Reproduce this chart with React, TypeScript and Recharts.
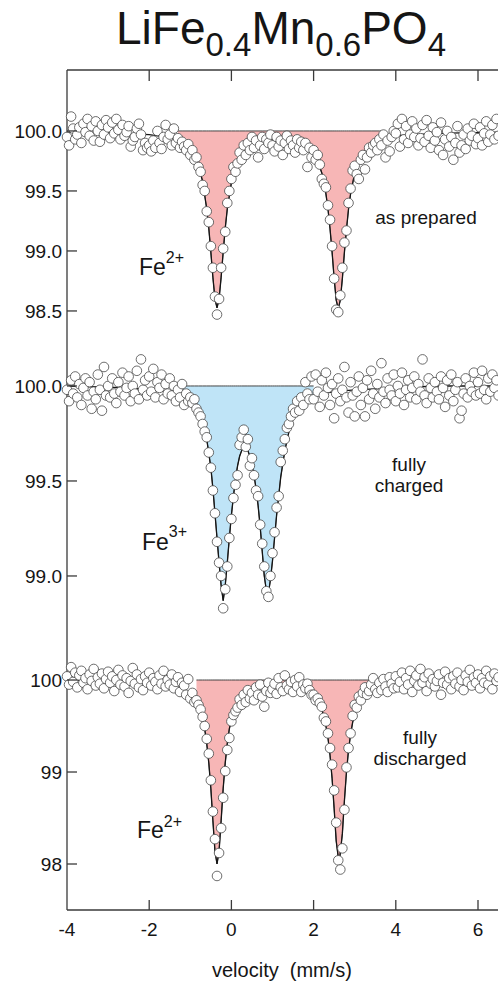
import React from 'react'
import { ComposedChart, Area, Line, Scatter, XAxis, YAxis } from 'recharts'

// channel grid: -4.00 ... 6.50 mm/s, 0.05 mm/s per channel
const V_START = -4
const V_STEP = 0.05

const asPrepared = [
  99.95, 99.88, 100.12, 100.02, 99.93, 99.97, 100.03, 99.9, 100.06, 99.99, 100.1, 99.96, 100.04, 99.92, 100.08, 100.0, 99.91, 100.05, 99.97, 100.09,
  100.03, 99.94, 100.07, 99.98, 100.1, 100.01, 99.93, 100.05, 99.96, 99.99, 100.04, 99.87, 99.92, 99.95, 100.02, 100.06, 99.97, 99.84, 99.9, 99.86,
  99.88, 99.83, 99.92, 99.86, 100.0, 99.9, 99.85, 99.95, 100.05, 99.93, 99.97, 99.88, 100.02, 99.9, 99.94, 99.86, 99.91, 99.87, 99.84, 99.89,
  99.8, 99.84, 99.76, 99.78, 99.7, 99.66, 99.55, 99.5, 99.33, 99.24, 99.04, 98.86, 98.62, 98.47, 98.6, 98.86, 99.02, 99.16, 99.4, 99.5,
  99.6, 99.7, 99.66, 99.73, 99.82, 99.76, 99.88, 99.8, 99.9, 99.84, 99.95, 99.86, 99.92, 99.78, 99.88, 99.95, 99.85, 99.93, 99.9, 99.97,
  99.88, 99.83, 99.95, 99.87, 99.92, 99.8, 99.9, 99.96, 99.85, 99.92, 99.88, 99.82, 99.93, 99.86, 99.91, 99.84, 99.9, 99.7, 99.86, 99.78,
  99.84, 99.76, 99.8, 99.72, 99.6, 99.56, 99.53, 99.38, 99.26, 99.04, 98.77, 98.51, 98.49, 98.63, 98.86, 99.07, 99.17, 99.4, 99.52, 99.67,
  99.71, 99.64, 99.6, 99.76, 99.8, 99.68, 99.78, 99.86, 99.82, 99.88, 99.9, 99.84, 99.93, 99.88, 99.97, 99.78, 99.92, 99.83, 99.95, 100.0,
  99.98, 100.06, 99.87, 100.1, 99.93, 100.04, 99.9, 99.97, 100.08, 99.95, 100.02, 99.88, 99.94, 100.05, 99.91, 100.09, 99.96, 99.86, 100.03, 99.92,
  99.99, 99.84, 100.07, 99.8, 99.93, 100.0, 99.87, 99.95, 99.76, 99.9, 100.04, 99.82, 99.88, 99.97, 99.85, 100.02, 99.92, 99.96, 100.06, 99.89,
  99.94, 100.03, 99.88, 99.98, 100.08, 99.91, 99.97, 100.05, 99.93, 100.1, 99.96,
]

const fullyCharged = [
  99.98, 99.92, 100.03, 99.96, 100.05, 99.94, 100.01, 99.9, 99.99, 100.04, 99.95, 100.02, 99.88, 99.97, 99.93, 100.06, 99.98, 99.87, 100.1, 99.95,
  100.0, 99.94, 100.04, 99.96, 99.91, 100.02, 99.97, 100.07, 99.95, 99.99, 100.05, 99.92, 100.0, 99.96, 100.08, 99.93, 100.14, 99.98, 100.03, 99.95,
  100.05, 99.97, 100.09, 99.94, 100.02, 99.99, 100.06, 99.93, 100.01, 99.96, 100.04, 99.95, 100.0, 99.92, 99.98, 99.94, 100.01, 99.9, 99.96, 99.92,
  99.94, 99.91, 99.93, 99.88, 99.86, 99.84, 99.8, 99.76, 99.73, 99.65, 99.57, 99.45, 99.33, 99.18, 99.07, 99.0, 98.83, 98.93, 99.05, 99.2,
  99.3, 99.41, 99.48, 99.53, 99.69, 99.73, 99.77, 99.68, 99.72, 99.58, 99.62, 99.53, 99.45, 99.42, 99.27, 99.17, 99.05, 98.92, 98.89, 99.0,
  99.12, 99.23, 99.36, 99.42, 99.6, 99.66, 99.72, 99.78, 99.8, 99.84, 99.88, 99.86, 99.92, 99.87, 99.94, 99.9, 100.02, 99.96, 99.93, 100.05,
  99.93, 100.06, 99.97, 99.89, 100.03, 99.95, 100.07, 99.99, 99.9, 100.01, 99.83, 99.96, 100.04, 99.92, 99.98, 100.1, 99.94, 99.86, 100.02, 99.95,
  99.84, 99.97, 100.05, 99.9, 99.99, 99.84, 100.03, 99.93, 100.08, 99.96, 99.88, 100.01, 99.94, 100.12, 99.97, 99.91, 100.04, 99.98, 99.95, 100.06,
  99.92, 100.0, 99.96, 100.07, 99.9, 99.98, 100.03, 99.94, 99.99, 100.05, 99.93, 100.01, 99.97, 100.14, 99.95, 99.91, 100.04, 99.99, 99.94, 100.02,
  99.97, 99.93, 100.05, 99.99, 99.89, 100.03, 99.95, 100.06, 99.92, 99.98, 100.02, 99.83, 99.87, 99.96, 100.04, 99.94, 100.0, 99.97, 100.07, 99.95,
  100.02, 99.96, 100.08, 99.98, 99.93, 100.04, 99.97, 100.06, 99.99, 100.03, 99.95,
]

const fullyDischarged = [
  100.04, 99.95, 100.14, 99.98, 100.08, 99.92, 100.05, 100.1, 99.97, 100.02, 99.9, 100.06, 99.99, 100.12, 99.94, 100.03, 99.96, 100.07, 99.91, 100.01,
  100.09, 99.97, 100.04, 99.88, 100.0, 100.11, 99.95, 100.05, 99.93, 100.02, 99.86, 99.99, 100.13, 99.96, 100.06, 99.92, 100.01, 99.89, 100.04, 99.97,
  100.08, 99.94, 100.02, 99.98, 99.9, 100.05, 99.96, 100.1, 99.93, 100.0, 99.95, 100.06, 99.91, 99.98, 100.03, 99.87, 99.97, 99.94, 99.84, 100.01,
  99.8, 99.86, 99.76, 99.78, 99.73, 99.68, 99.6, 99.5, 99.36, 99.2, 98.91, 98.57, 98.27, 97.87, 98.12, 98.39, 98.72, 99.01, 99.24, 99.37,
  99.55, 99.62, 99.66, 99.7, 99.79, 99.73, 99.84, 99.76, 99.89, 99.8, 99.86, 99.78, 99.92, 99.84, 99.95, 99.82, 99.71, 99.88, 99.97, 99.86,
  99.9, 99.96, 99.85, 100.02, 99.92, 99.88, 100.05, 99.94, 99.9, 99.98, 99.87, 100.0, 99.93, 100.03, 99.87, 99.95, 99.91, 99.96, 99.89, 99.84,
  99.84, 99.78, 99.8, 99.75, 99.71, 99.59, 99.55, 99.42, 99.26, 99.08, 98.8, 98.45, 98.04, 97.94, 98.17, 98.59, 99.05, 99.26, 99.42, 99.61,
  99.73, 99.7, 99.82, 99.78, 99.86, 99.92, 99.84, 99.88, 99.95, 100.02, 99.9, 99.86, 99.97, 99.89, 100.01, 99.93, 99.87, 100.03, 99.96, 99.91,
  100.04, 99.92, 99.98, 100.08, 99.9, 100.02, 99.95, 100.1, 99.87, 99.99, 100.05, 99.94, 100.12, 99.97, 100.03, 99.88, 100.07, 99.96, 100.01, 99.93,
  99.99, 100.06, 99.84, 99.97, 100.09, 99.95, 100.02, 99.9, 100.04, 99.96, 100.08, 99.93, 100.0, 99.89, 100.05, 99.98, 100.11, 99.94, 100.03, 99.97,
  100.06, 99.91, 100.02, 99.97, 100.1, 99.95, 100.04, 99.9, 100.07, 99.99, 100.03,
]

// fitted envelopes
const fitPreparedV = [-4, -3, -2, -1.5, -1.3, -1.2, -1.0, -0.9, -0.8, -0.7, -0.6, -0.55, -0.5, -0.45, -0.4, -0.35, -0.3, -0.25, -0.2, -0.15, -0.1, 0, 0.1, 0.2, 0.35, 0.5, 0.75, 1.0, 1.25, 1.5, 1.75, 1.9, 2.0, 2.1, 2.2, 2.25, 2.3, 2.35, 2.4, 2.45, 2.5, 2.55, 2.6, 2.65, 2.7, 2.75, 2.8, 2.85, 2.9, 3.0, 3.1, 3.2, 3.4, 3.6, 3.75, 4.0, 5.0, 6.5]
const fitPrepared = [99.99, 99.985, 99.97, 99.945, 99.92, 99.9, 99.845, 99.79, 99.71, 99.58, 99.35, 99.19, 98.99, 98.78, 98.6, 98.525, 98.6, 98.78, 98.99, 99.19, 99.35, 99.57, 99.7, 99.78, 99.85, 99.89, 99.92, 99.935, 99.936, 99.923, 99.89, 99.854, 99.81, 99.75, 99.65, 99.57, 99.475, 99.35, 99.185, 98.99, 98.77, 98.59, 98.52, 98.59, 98.77, 98.99, 99.18, 99.35, 99.475, 99.65, 99.755, 99.82, 99.89, 99.925, 99.94, 99.96, 99.98, 99.99]

const fitChargedV = [-4, -2.5, -2.0, -1.5, -1.2, -1.0, -0.9, -0.8, -0.7, -0.6, -0.5, -0.45, -0.4, -0.35, -0.3, -0.25, -0.2, -0.15, -0.1, -0.05, 0, 0.05, 0.1, 0.15, 0.2, 0.25, 0.33, 0.4, 0.45, 0.5, 0.55, 0.6, 0.65, 0.7, 0.75, 0.8, 0.88, 0.95, 1.0, 1.05, 1.1, 1.15, 1.2, 1.3, 1.4, 1.5, 1.6, 1.8, 2.0, 2.5, 3, 4, 5, 6.5]
const fitCharged = [100.0, 99.99, 99.98, 99.97, 99.95, 99.93, 99.91, 99.87, 99.81, 99.72, 99.57, 99.46, 99.33, 99.2, 99.07, 98.95, 98.87, 98.95, 99.07, 99.2, 99.32, 99.42, 99.51, 99.58, 99.63, 99.66, 99.67, 99.66, 99.63, 99.59, 99.53, 99.46, 99.37, 99.26, 99.13, 99.0, 98.88, 98.98, 99.08, 99.2, 99.32, 99.42, 99.52, 99.66, 99.76, 99.83, 99.87, 99.92, 99.95, 99.97, 99.98, 99.99, 100.0, 100.0]

const fitDischargedV = [-4, -2.5, -2, -1.5, -1.2, -1.0, -0.9, -0.85, -0.8, -0.7, -0.65, -0.6, -0.55, -0.5, -0.45, -0.4, -0.35, -0.3, -0.25, -0.2, -0.15, -0.1, -0.05, 0, 0.1, 0.2, 0.35, 0.5, 0.7, 1.0, 1.3, 1.5, 1.7, 1.8, 1.9, 2.0, 2.1, 2.2, 2.25, 2.3, 2.35, 2.4, 2.45, 2.5, 2.55, 2.62, 2.7, 2.75, 2.8, 2.85, 2.9, 2.95, 3.0, 3.1, 3.2, 3.3, 3.5, 3.7, 4, 5, 6.5]
const fitDischarged = [100.0, 99.99, 99.975, 99.95, 99.91, 99.855, 99.8, 99.766, 99.72, 99.58, 99.47, 99.31, 99.1, 98.82, 98.47, 98.14, 98.0, 98.14, 98.47, 98.82, 99.1, 99.31, 99.47, 99.57, 99.71, 99.795, 99.865, 99.9, 99.925, 99.94, 99.94, 99.93, 99.9, 99.89, 99.86, 99.83, 99.77, 99.68, 99.6, 99.5, 99.37, 99.18, 98.93, 98.6, 98.25, 98.0, 98.33, 98.69, 99.0, 99.24, 99.41, 99.54, 99.63, 99.75, 99.82, 99.87, 99.92, 99.945, 99.96, 99.98, 100.0]

const velocityTicks = [-4, -2, 0, 2, 4, 6]
const preparedTicks = [98.5, 99.0, 99.5, 100.0]
const chargedTicks = [99.0, 99.5, 100.0]
const dischargedTicks = [98, 99, 100]

const FONT = '"Liberation Sans", Arial, Helvetica, sans-serif'
const AXIS = '#3a3a3a'
const INK = '#151515'
const PINK = '#f7b6b6'
const BLUE = '#bfe4f7'
const PLOT_L = 67
const PLOT_R = 498.55
const CHART_W = 520

const Dot = (p: any) => (
  <circle cx={p.cx} cy={p.cy} r={4.8} fill="#fff" stroke="#484848" strokeWidth={0.8} />
)

type PanelProps = {
  top: number
  axisTop: number
  plotH: number
  axisBottom: number
  domain: [number, number]
  ticks: number[]
  fmt: (v: number) => string
  values: number[]
  fitV: number[]
  fitY: number[]
  fillRange: [number, number]
  fillColor: string
}

function Panel({ top, axisTop, plotH, axisBottom, domain, ticks, fmt, values, fitV, fitY, fillRange, fillColor }: PanelProps) {
  const points = values.map((y, i) => ({ v: +(V_START + i * V_STEP).toFixed(2), y }))
  const fit = fitV.map((v, i) => ({ v, y: fitY[i] }))
  const band = fit
    .filter((p) => p.v >= fillRange[0] && p.v <= fillRange[1])
    .map((p) => ({ v: p.v, band: [p.y, 100] }))

  const plotTop = axisTop
  const plotBottom = axisTop + plotH
  const height = axisTop + plotH + axisBottom
  const showX = axisTop > 0 || axisBottom > 0
  const xOrient = axisTop > 0 ? 'top' : 'bottom'

  const xTick = (p: any) => {
    if (xOrient === 'top') {
      if (p.payload.value === -4) return <g />
      return <line x1={p.x} x2={p.x} y1={plotTop} y2={plotTop + 11} stroke={AXIS} strokeWidth={1.3} />
    }
    return (
      <g>
        {p.payload.value !== -4 && (
          <line x1={p.x} x2={p.x} y1={plotBottom} y2={plotBottom - 10} stroke={AXIS} strokeWidth={1.3} />
        )}
        <text x={p.x} y={plotBottom + 19} dy="0.36em" textAnchor="middle" fontSize={19} fontFamily={FONT} fill={INK}>
          {String(p.payload.value)}
        </text>
      </g>
    )
  }

  const leftTick = (p: any) => (
    <g>
      <line x1={PLOT_L} x2={PLOT_L + 10} y1={p.y} y2={p.y} stroke={AXIS} strokeWidth={1.3} />
      <text x={PLOT_L - 5} y={p.y} dy="0.36em" textAnchor="end" fontSize={19} fontFamily={FONT} fill={INK}>
        {fmt(p.payload.value)}
      </text>
    </g>
  )

  const rightTick = (p: any) => (
    <line x1={PLOT_R - 10} x2={PLOT_R} y1={p.y} y2={p.y} stroke={AXIS} strokeWidth={1.3} />
  )

  return (
    <div style={{ position: 'absolute', left: 0, top }}>
      <ComposedChart width={CHART_W} height={height} margin={{ top: 0, right: 0, bottom: 0, left: 0 }}>
        <XAxis
          type="number"
          dataKey="v"
          domain={[-4, 6.5]}
          ticks={velocityTicks}
          interval={0}
          orientation={xOrient}
          hide={!showX}
          height={xOrient === 'top' ? axisTop : axisBottom}
          tickSize={0}
          tickLine={false}
          axisLine={{ stroke: AXIS, strokeWidth: 1.3 }}
          tick={xTick}
        />
        <YAxis
          yAxisId="l"
          type="number"
          domain={domain}
          ticks={ticks}
          interval={0}
          width={PLOT_L}
          tickSize={0}
          tickLine={false}
          axisLine={{ stroke: AXIS, strokeWidth: 1.3 }}
          tick={leftTick}
        />
        <YAxis
          yAxisId="r"
          orientation="right"
          type="number"
          domain={domain}
          ticks={ticks}
          interval={0}
          width={CHART_W - PLOT_R}
          tickSize={0}
          tickLine={false}
          axisLine={false}
          tick={rightTick}
        />
        <Area
          yAxisId="l"
          data={band}
          dataKey="band"
          type="linear"
          fill={fillColor}
          fillOpacity={1}
          stroke="#444"
          strokeWidth={1}
          isAnimationActive={false}
        />
        <Line
          yAxisId="l"
          data={fit}
          dataKey="y"
          type="linear"
          stroke={INK}
          strokeWidth={1.3}
          dot={false}
          activeDot={false}
          isAnimationActive={false}
        />
        <Scatter yAxisId="l" data={points} dataKey="y" shape={Dot} isAnimationActive={false} />
      </ComposedChart>
    </div>
  )
}

export default function App() {
  return (
    <div
      style={{
        position: 'absolute',
        left: 0,
        top: 0,
        width: 498,
        height: 984,
        overflow: 'hidden',
        background: '#fff',
        fontFamily: FONT,
      }}
    >
      <Panel
        top={40}
        axisTop={30}
        plotH={270}
        axisBottom={0}
        domain={[98.258, 100.508]}
        ticks={preparedTicks}
        fmt={(v) => v.toFixed(1)}
        values={asPrepared}
        fitV={fitPreparedV}
        fitY={fitPrepared}
        fillRange={[-1.3, 3.75]}
        fillColor={PINK}
      />
      <Panel
        top={340}
        axisTop={0}
        plotH={300}
        axisBottom={0}
        domain={[98.663, 100.242]}
        ticks={chargedTicks}
        fmt={(v) => v.toFixed(1)}
        values={fullyCharged}
        fitV={fitChargedV}
        fitY={fitCharged}
        fillRange={[-1.2, 2.0]}
        fillColor={BLUE}
      />
      <Panel
        top={640}
        axisTop={0}
        plotH={270}
        axisBottom={74}
        domain={[97.5, 100.435]}
        ticks={dischargedTicks}
        fmt={(v) => String(v)}
        values={fullyDischarged}
        fitV={fitDischargedV}
        fitY={fitDischarged}
        fillRange={[-0.85, 3.5]}
        fillColor={PINK}
      />
      <svg
        width={498}
        height={984}
        style={{ position: 'absolute', left: 0, top: 0, pointerEvents: 'none' }}
        fontFamily={FONT}
        fill={INK}
      >
        <text x={281} y={44} textAnchor="middle" fontSize={46}>
          LiFe
          <tspan fontSize={33} dy={12}>0.4</tspan>
          <tspan fontSize={46} dy={-12}>Mn</tspan>
          <tspan fontSize={33} dy={12}>0.6</tspan>
          <tspan fontSize={46} dy={-12}>PO</tspan>
          <tspan fontSize={33} dy={12}>4</tspan>
        </text>

        <text x={426} y={224} textAnchor="middle" fontSize={19}>as prepared</text>
        <text x={409} y={471} textAnchor="middle" fontSize={19}>fully</text>
        <text x={409} y={492} textAnchor="middle" fontSize={19}>charged</text>
        <text x={420} y={744} textAnchor="middle" fontSize={19}>fully</text>
        <text x={420} y={765} textAnchor="middle" fontSize={19}>discharged</text>

        <text x={139} y={275} fontSize={23}>
          Fe<tspan fontSize={16} dy={-12}>2+</tspan>
        </text>
        <text x={142} y={550} fontSize={23}>
          Fe<tspan fontSize={16} dy={-13}>3+</tspan>
        </text>
        <text x={137} y={838} fontSize={23}>
          Fe<tspan fontSize={16} dy={-11}>2+</tspan>
        </text>

        <text x={282} y={977} textAnchor="middle" fontSize={20} style={{ whiteSpace: 'pre' }}>
          {'velocity  (mm/s)'}
        </text>
      </svg>
    </div>
  )
}
